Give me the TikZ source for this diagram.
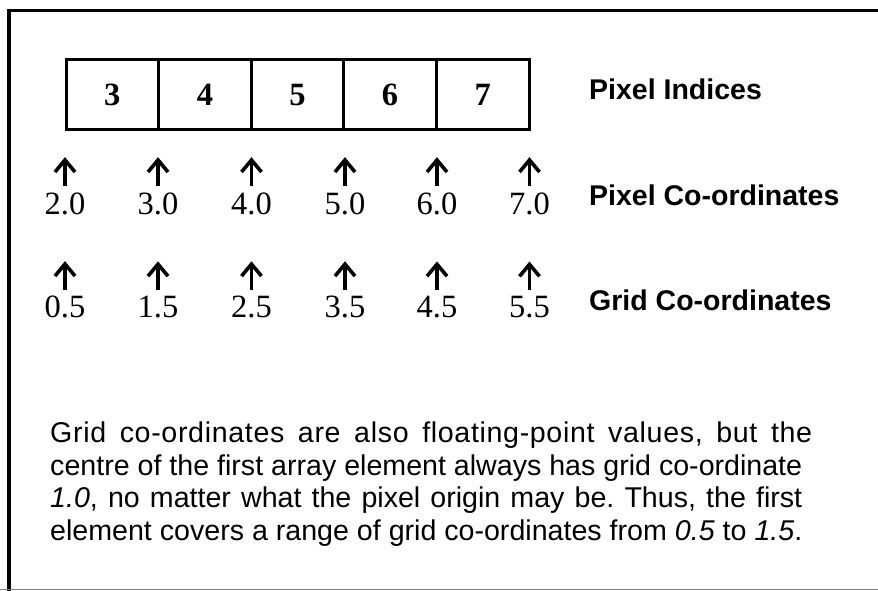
\documentclass[tikz,border=0pt]{standalone}
\usepackage{fontspec}
\setmainfont{Liberation Serif}
\setsansfont{Liberation Sans}
\usetikzlibrary{arrows.meta}
\begin{document}
\frenchspacing
\begin{tikzpicture}[x=1pt,y=-1pt,
  cell/.style={draw, line width=3pt, minimum width=92.6pt, minimum height=70.5pt, inner sep=0pt,
    font=\fontsize{32.5}{32.5}\selectfont\bfseries},
  num/.style={anchor=base, inner sep=0pt, font=\fontsize{32.5}{32.5}\selectfont},
  lab/.style={anchor=base west, inner sep=0pt, font=\sffamily\bfseries\fontsize{28.5}{28.5}\selectfont},
  para/.style={anchor=base west, inner sep=0pt, font=\sffamily\fontsize{28.6}{32.5}\selectfont},
  uparr/.style={line width=3.6pt, -{Straight Barb[length=12pt,width=20pt]}}
]
\useasboundingbox (0,0) rectangle (878,591);
% frame
\draw[line width=3.5pt] (878,10.5) -- (9,10.5) -- (9,591);
\draw[gray, line width=1.5pt] (0,589.5) -- (878,589.5);
% pixel cells
\node[cell] (c3) at (112.3,94.75) {3};
\node[cell] (c4) at (204.9,94.75) {4};
\node[cell] (c5) at (297.5,94.75) {5};
\node[cell] (c6) at (390.1,94.75) {6};
\node[cell] (c7) at (482.7,94.75) {7};
% coordinates rows
\foreach \i/\x/\p/\g in {1/65/2.0/0.5, 2/158/3.0/1.5, 3/251.5/4.0/2.5, 4/345/5.0/3.5, 5/437/6.0/4.5, 6/529.5/7.0/5.5} {
  \node[num] (p\i) at (\x,214) {\p};
  \draw[uparr] ([yshift=6pt]p\i.north) -- ([yshift=35pt]p\i.north);
  \node[num] (g\i) at (\x,317) {\g};
  \draw[uparr] ([yshift=5.5pt]g\i.north) -- ([yshift=34pt]g\i.north);
}
% labels
\node[lab] (li) at (589,100) {Pixel Indices};
\node[lab] (lp) at (589,205) {Pixel Co-ordinates};
\node[lab] (lg) at (589,310) {Grid Co-ordinates};
% paragraph
\node[para] (t1) at (50,442.5) {\addfontfeatures{LetterSpace=2.3}\makebox[762pt][s]{Grid co-ordinates are also floating-point values, but the}};
\node[para] (t2) at (50,475) {\makebox[752pt][s]{centre of the first array element always has grid co-ordinate}};
\node[para] (t3) at (50,507.5) {\makebox[752pt][s]{\textit{1.0}, no matter what the pixel origin may be. Thus, the first}};
\node[para] (t4) at (50,540) {element covers a range of grid co-ordinates from \textit{0.5} to \textit{1.5}.};
\end{tikzpicture}
\end{document}
